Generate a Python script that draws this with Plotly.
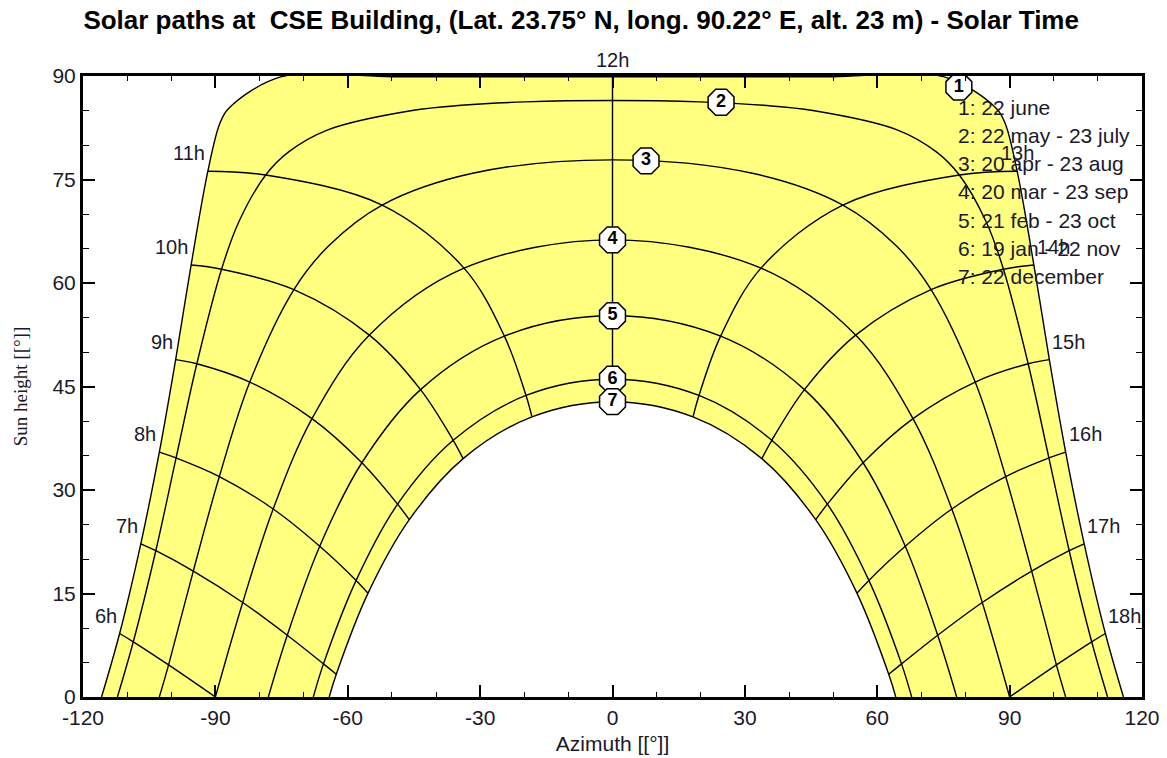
import plotly.graph_objects as go

# ---------------- data (solar time, azimuth from south, sun height) ----------------
hour_names = ["6h", "7h", "8h", "9h", "10h", "11h", "12h", "13h", "14h", "15h", "16h", "17h", "18h"]
hour_values = [6, 7, 8, 9, 10, 11, 12, 13, 14, 15, 16, 17, 18]

x_tick_values = [-120, -90, -60, -30, 0, 30, 60, 90, 120]
x_tick_labels = ["-120", "-90", "-60", "-30", "0", "30", "60", "90", "120"]
y_tick_values = [0, 15, 30, 45, 60, 75, 90]

legend_labels = ["1: 22 june", "2: 22 may - 23 july", "3: 20 apr - 23 aug", "4: 20 mar - 23 sep",
                 "5: 21 feb - 23 oct", "6: 19 jan - 22 nov", "7: 22 december"]

# 1: 22 june
path1_t = [5.27, 6, 7, 8, 9, 10, 11, 11.5, 11.75, 11.9, 11.95, 11.98, 12,
           12.02, 12.05, 12.1, 12.25, 12.5, 13, 14, 15, 16, 17, 18, 18.73]
path1_az = [-115.8, -111.7, -106.9, -102.7, -99.0, -95.5, -91.7, -89.0, -87.0, -75.0, -50.0, -25.0, 0.0,
            25.0, 50.0, 75.0, 87.0, 89.0, 91.7, 95.5, 99.0, 102.7, 106.9, 111.7, 115.8]
path1_h = [0.0, 9.2, 22.2, 35.5, 48.9, 62.6, 76.2, 83.1, 85.3, 89.9, 89.9, 89.9, 89.9,
           89.9, 89.9, 89.9, 85.3, 83.1, 76.2, 62.6, 48.9, 35.5, 22.2, 9.2, 0.0]

# 2: 22 may - 23 july
path2_t = [5.38, 6, 7, 8, 9, 10, 10.5, 11, 11.25, 11.5, 11.75, 11.833, 11.917, 12,
           12.083, 12.167, 12.25, 12.5, 12.75, 13, 13.5, 14, 15, 16, 17, 18, 18.62]
path2_az = [-112.2, -108.6, -103.5, -98.9, -94.2, -88.6, -84.7, -78.6, -73.4, -64.5, -45.4, -34.2, -19.8, 0.0,
            19.8, 34.2, 45.4, 64.5, 73.4, 78.6, 84.7, 88.6, 94.2, 98.9, 103.5, 108.6, 112.2]
path2_h = [0.0, 8.0, 21.2, 34.65, 48.3, 62.0, 68.85, 75.65, 79.0, 82.2, 85.0, 85.75, 86.25, 86.45,
           86.25, 85.75, 85.0, 82.2, 79.0, 75.65, 68.85, 62.0, 48.3, 34.65, 21.2, 8.0, 0.0]

# 3: 20 apr - 23 aug
path3_t = [5.65, 6, 7, 8, 9, 10, 10.5, 11, 11.5, 12, 12.5, 13, 13.5, 14, 15, 16, 17, 18, 18.35]
path3_az = [-102.7, -100.6, -95.0, -89.1, -82.2, -72.2, -64.3, -52.2, -31.7, 0.0,
            31.7, 52.2, 64.3, 72.2, 82.2, 89.1, 95.0, 100.6, 102.7]
path3_h = [0.0, 4.65, 18.25, 31.95, 45.65, 59.05, 65.4, 71.3, 75.9, 77.85,
           75.9, 71.3, 65.4, 59.05, 45.65, 31.95, 18.25, 4.65, 0.0]

# 4: 20 mar - 23 sep
path4_t = [6, 7, 8, 9, 10, 11, 12, 13, 14, 15, 16, 17, 18]
path4_az = [-90.0, -83.8, -76.9, -68.1, -55.1, -33.65, 0.0, 33.65, 55.1, 68.1, 76.9, 83.8, 90.0]
path4_h = [0.0, 13.7, 27.25, 40.35, 52.45, 62.15, 66.25, 62.15, 52.45, 40.35, 27.25, 13.7, 0.0]

# 5: 21 feb - 23 oct
path5_t = [6.33, 7, 8, 9, 10, 11, 12, 13, 14, 15, 16, 17, 17.67]
path5_az = [-78.0, -73.7, -66.35, -56.8, -43.5, -24.5, 0.0, 24.5, 43.5, 56.8, 66.35, 73.7, 78.0]
path5_h = [0.0, 8.95, 21.85, 33.95, 44.55, 52.3, 55.25, 52.3, 44.55, 33.95, 21.85, 8.95, 0.0]

# 6: 19 jan - 22 nov
path6_t = [6.62, 7, 8, 9, 10, 11, 12, 13, 14, 15, 16, 17, 17.38]
path6_az = [-67.8, -65.5, -58.1, -48.7, -36.1, -19.6, 0.0, 19.6, 36.1, 48.7, 58.1, 65.5, 67.8]
path6_h = [0.0, 4.8, 16.9, 27.95, 37.2, 43.7, 46.05, 43.7, 37.2, 27.95, 16.9, 4.8, 0.0]

# 7: 22 december
path7_t = [6.73, 7, 8, 9, 10, 11, 12, 13, 14, 15, 16, 17, 17.27]
path7_az = [-64.2, -62.6, -55.4, -46.05, -33.85, -18.25, 0.0, 18.25, 33.85, 46.05, 55.4, 62.6, 64.2]
path7_h = [0.0, 3.3, 15.05, 25.7, 34.55, 40.6, 42.8, 40.6, 34.55, 25.7, 15.05, 3.3, 0.0]

# numbered path markers
marker_names = ["1", "2", "3", "4", "5", "6", "7"]
marker_az = [78.5, 24.6, 7.6, 0.0, 0.0, 0.0, 0.0]
marker_h = [88.4, 86.2, 77.7, 66.25, 55.25, 46.05, 42.8]

paths = [(path1_t, path1_az, path1_h), (path2_t, path2_az, path2_h), (path3_t, path3_az, path3_h),
         (path4_t, path4_az, path4_h), (path5_t, path5_az, path5_h), (path6_t, path6_az, path6_h),
         (path7_t, path7_az, path7_h)]

YELLOW = "#FFFF80"
FONT = "Liberation Sans, Arial, sans-serif"
TXT = "#1a1a2a"

fig = go.Figure()

# yellow band between the june and december paths
fig.add_trace(go.Scatter(x=path1_az, y=path1_h, mode="lines",
                         line=dict(shape="spline", width=0, color=YELLOW),
                         fill="toself", fillcolor=YELLOW, hoverinfo="skip", showlegend=False))
fig.add_trace(go.Scatter(x=path7_az, y=path7_h, mode="lines",
                         line=dict(shape="spline", width=0, color="white"),
                         fill="toself", fillcolor="white", hoverinfo="skip", showlegend=False))

# date paths
for t, az, h in paths:
    fig.add_trace(go.Scatter(x=az, y=h, mode="lines",
                             line=dict(shape="spline", width=1.4, color="black"),
                             hoverinfo="skip", showlegend=False))

# hour lines
for hv in hour_values:
    xs, ys = [], []
    for t, az, h in paths:
        for i, tv in enumerate(t):
            if abs(tv - hv) < 1e-6:
                xs.append(az[i])
                ys.append(h[i])
    fig.add_trace(go.Scatter(x=xs, y=ys, mode="lines",
                             line=dict(shape="spline", width=1.4, color="black"),
                             hoverinfo="skip", showlegend=False))

# numbered markers
fig.add_trace(go.Scatter(x=marker_az, y=marker_h, mode="markers+text", text=marker_names,
                         textposition="middle center",
                         textfont=dict(family=FONT, size=18, color="black", weight="bold"),
                         marker=dict(symbol="octagon", size=28, color="white",
                                     line=dict(color="black", width=1.5)),
                         cliponaxis=False, hoverinfo="skip", showlegend=False))

annotations = []
# hour labels at the june path
for name, hv in zip(hour_names, hour_values):
    idx = [i for i, tv in enumerate(path1_t) if abs(tv - hv) < 1e-6][0]
    x0, y0 = path1_az[idx], path1_h[idx]
    if hv < 12:
        xa, xs = "right", -1
    elif hv == 12:
        xa, xs = "center", 0
    elif hv == 13:
        xa, xs = "left", -18
    else:
        xa, xs = "left", 1
    ys = 17 if hv == 12 else 18
    annotations.append(dict(x=x0, y=y0, xref="x", yref="y", text=name, showarrow=False,
                            xanchor=xa, yanchor="middle", xshift=xs, yshift=ys,
                            font=dict(family=FONT, size=20, color=TXT)))

# date legend text
for i, lab in enumerate(legend_labels):
    ypx = 107 + 28.3 * i
    annotations.append(dict(x=(956 - 83) / 1059, y=(697 - ypx) / 621, xref="paper", yref="paper",
                            text=lab, showarrow=False, xanchor="left", yanchor="middle",
                            font=dict(family=FONT, size=21, color=TXT)))

axis_common = dict(showline=True, linewidth=3, linecolor="black", mirror="allticks",
                   ticks="inside", ticklen=12, tickwidth=1.5, tickcolor="black",
                   showgrid=False, zeroline=False, automargin=False,
                   tickfont=dict(family=FONT, size=21, color=TXT))

fig.update_layout(
    width=1167, height=758,
    margin=dict(l=83, r=25, t=76, b=61),
    paper_bgcolor="white", plot_bgcolor="white",
    title=dict(text="Solar paths at  CSE Building, (Lat. 23.75° N, long. 90.22° E, alt. 23 m) - Solar Time",
               x=0.498, xref="container", xanchor="center", y=1 - 20 / 758, yref="container", yanchor="middle",
               font=dict(family=FONT, size=26, color="black", weight="bold")),
    xaxis=dict(range=[-120, 120], tickmode="array", tickvals=x_tick_values, ticktext=x_tick_labels,
               minor=dict(dtick=10, ticklen=5, tickwidth=1.2, tickcolor="black", ticks="inside", showgrid=False),
               title=dict(text="Azimuth [[°]]", font=dict(family=FONT, size=21, color=TXT), standoff=9),
               **axis_common),
    yaxis=dict(range=[0, 90], tickmode="array", tickvals=y_tick_values,
               minor=dict(dtick=5, ticklen=6, tickwidth=1.2, tickcolor="black", ticks="inside", showgrid=False),
               title=dict(text="Sun height [[°]]", font=dict(family="Liberation Serif, Times New Roman, serif",
                                                             size=19, color=TXT), standoff=20),
               **axis_common),
    annotations=annotations,
)

fig.write_html("out.html", config={"displayModeBar": False},
               post_script="document.body.style.margin='0px';")
